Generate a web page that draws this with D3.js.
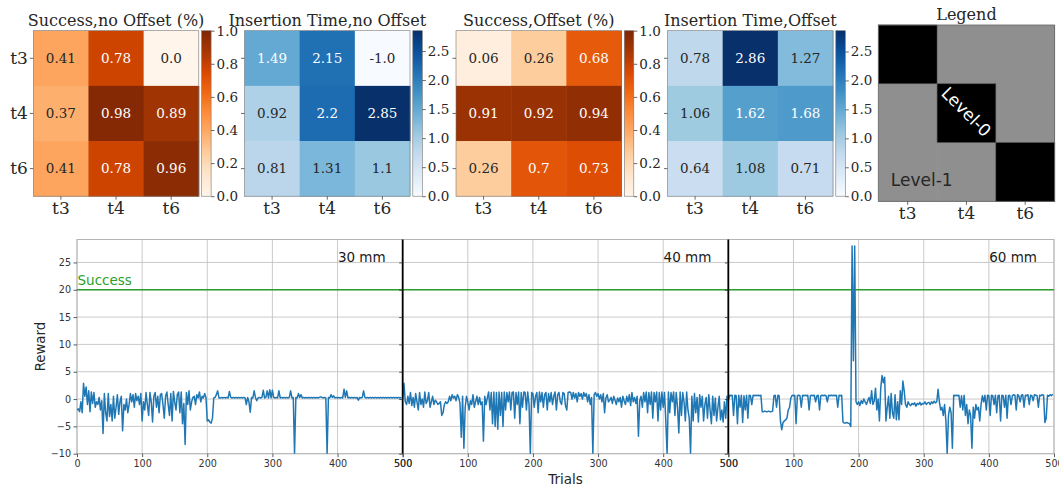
<!DOCTYPE html>
<html>
<head>
<meta charset="utf-8">
<script src="https://cdn.jsdelivr.net/npm/d3@7"></script>
<style>
  html, body { margin: 0; padding: 0; background: #fff; }
  svg { display: block; }
</style>
</head>
<body>
<svg id="chart" width="1059" height="487"></svg>
<script>
// ---- data ----
const levels = ['t3', 't4', 't6'];

const successNoOffset = [[0.41, 0.78, 0.0], [0.37, 0.98, 0.89], [0.41, 0.78, 0.96]];
const timeNoOffset = [[1.49, 2.15, -1.0], [0.92, 2.2, 2.85], [0.81, 1.31, 1.1]];
const successOffset = [[0.06, 0.26, 0.68], [0.91, 0.92, 0.94], [0.26, 0.7, 0.73]];
const timeOffset = [[0.78, 2.86, 1.27], [1.06, 1.62, 1.68], [0.64, 1.08, 0.71]];
// 0 = Level-0 (black), 1 = Level-1 (gray)
const legendLevels = [[0, 1, 1], [1, 0, 1], [1, 1, 0]];

const successTicks = [0, 0.2, 0.4, 0.6, 0.8, 1.0];
const timeTicks = [0, 0.5, 1.0, 1.5, 2.0, 2.5];

const panelNames = ['30 mm', '40 mm', '60 mm'];
const trialStep = 2;
const trialTicks = [0, 100, 200, 300, 400, 500];
const rewardTicks = [-10, -5, 0, 5, 10, 15, 20, 25];
const successReward = 20;

// reward per trial (every 2nd trial), one array per hole offset
const reward30 = [
  -2.0, -1.8, -2.3, -0.5, -2.5, 2.9, 0.5, 2.2, -1.0, 1.5,
  -2.3, 1.3, -0.8, 1.2, -1.5, -0.5, -1.0, 0.3, -2.0, -0.3,
  -6.3, 1.0, -2.5, -4.0, 1.0, -3.2, -1.0, -4.0, 0.5, -3.5,
  -1.5, 0.8, -2.8, -0.5, 0.5, -5.8, -1.0, -2.0, 0.0, -2.5,
  -1.0, 1.0, -0.5, 0.8, -1.5, 1.0, -0.3, 0.5, -1.0, 1.0,
  -4.0, -0.5, -2.0, 1.2, -1.0, -3.0, 1.2, -0.5, -4.2, 0.5,
  1.2, -1.5, 0.5, -2.5, 0.8, 1.0, -1.0, -3.5, 0.5, 1.3,
  -1.0, -3.0, 1.0, -4.0, 1.4, -0.5, -2.0, 0.8, 1.3, -2.5,
  1.3, -4.5, -0.8, -8.3, 1.2, -1.0, 1.5, -2.0, -0.5, 0.3,
  0.5, -1.0, 0.8, 0.2, 1.3, -0.5, 0.5, 0.2, 1.0, 0.3,
  -4.0, -3.8, -4.2, -4.4, -3.5, 0.2, 0.3, 0.8, 1.5, 0.2,
  0.2, 0.3, 0.2, 0.3, 0.2, 0.3, 0.2, 1.4, 0.3, 0.2,
  0.3, 0.2, 0.3, 0.2, 0.3, 0.2, 0.3, 0.2, 0.3, 0.2,
  -1.0, 0.3, -0.5, -2.4, 0.3, 0.2, 1.5, 0.3, -0.3, 0.2,
  0.3, 0.2, 0.3, 1.6, 0.2, 0.3, 1.5, 0.2, 1.7, 0.2,
  1.6, 0.3, 0.2, 0.3, 0.2, 1.5, 0.2, 0.3, 0.2, 0.3,
  0.2, 0.3, 0.2, 0.3, 1.5, 0.2, 0.3, -10, 0.3, 0.2,
  1.0, 0.3, 0.8, 0.2, 0.3, 0.2, 0.3, 0.2, 0.3, 0.2,
  0.3, 0.2, 0.3, 0.2, 0.3, 0.2, 0.3, 0.4, 0.3, 0.2,
  0.3, 0.2, -10, 0.3, 0.2, 0.8, 0.3, 0.6, 0.2, 0.3,
  0.2, 0.3, 0.2, 0.3, 0.2, 1.8, 0.3, 1.5, 0.2, 0.3,
  0.2, 0.3, 0.2, 0.3, 0.2, 0.3, -0.2, 0.3, 0.2, 0.3,
  1.5, 0.3, 0.2, 0.3, 0.2, 0.3, 0.2, 0.3, 0.2, 0.3,
  0.2, 0.3, 0.2, 0.3, 0.2, 0.3, 0.2, 0.3, 0.2, 0.3,
  0.2, 0.3, 0.2, 0.3, 0.2, 0.3, 0.2, 0.3, 0.2, 0.3
];

const reward40 = [
  0.2, 2.9, -0.5, -1.0, 0.5, -0.8, 1.2, -1.2, 0.3, -1.5,
  1.0, -0.5, -2.0, 1.2, -1.0, 0.0, -1.5, 1.3, -0.8, -0.3,
  1.2, -1.5, -0.5, 0.5, -1.0, -0.2, -0.5, -1.0, -0.8, -0.5,
  -3.0, -2.5, -1.0, -0.5, -0.8, -0.5, 0.5, -0.3, 0.8, 0.2,
  0.5, -0.3, 0.8, 0.3, -0.8, -7.0, 0.5, -9.0, -1.5, 0.5,
  -0.5, -2.0, -0.3, -1.0, 0.8, -1.5, -0.5, 0.5, -1.0, 0.3,
  -1.0, -0.5, -7.7, 0.5, -1.0, 0.2, 1.3, -2.0, 1.2, -4.5,
  1.3, -5.0, 1.2, -5.5, 1.3, -3.0, 1.2, -5.0, 1.3, -2.0,
  1.2, -0.5, 1.3, -2.0, 1.2, 1.3, -3.5, 1.2, -1.0, 1.3,
  -4.5, 1.2, -1.5, 1.3, 1.2, -2.0, 1.3, -1.0, -10, 1.2,
  1.0, -1.5, 0.5, 1.2, -2.5, 1.3, -0.5, 1.2, -1.5, 0.8,
  1.2, -2.0, 1.0, -0.5, 1.2, -1.0, 0.5, 1.3, -2.0, 0.8,
  1.2, -0.5, -1.0, 1.2, 1.0, -1.2, -2.0, 1.2, 1.3, 1.2,
  0.0, 1.2, 0.2, 1.0, -0.5, 1.2, 0.5, 1.0, 0.0, 1.2,
  0.5, 1.0, -0.5, 0.8, -1.0, 0.3, -10, 0.8, 1.2, 0.5,
  1.0, 0.0, 0.8, -0.5, 1.0, -2.5, 0.2, 0.8, -0.5, -0.2,
  0.3, -0.8, 0.5, -0.2, -1.0, 0.2, -0.5, 0.3, -1.5, 0.5,
  -0.3, -1.0, 0.5, -0.5, 0.8, -1.2, 1.2, -0.5, 0.3, -0.8,
  0.5, -6.8, -0.3, 0.5, -1.5, 1.2, -0.5, 1.3, -2.5, 1.2,
  -1.0, 1.3, -3.5, 1.2, -0.5, 1.3, -4.0, 1.2, -2.0, 1.3,
  -1.5, 1.2, -4.0, -10, 1.3, -2.5, 1.2, -0.5, 1.3, -3.0,
  1.2, -1.5, -6.2, 1.3, -3.0, 1.2, -0.5, -4.0, 1.3, -2.0,
  -3.5, -10, 0.5, -4.0, 1.0, -2.5, 0.3, -4.2, 0.8, -1.5,
  0.5, -4.0, -1.0, 0.3, -3.5, 0.8, -2.0, -4.5, 0.5, -3.0,
  0.2, -4.0, -1.5, 0.5, -3.8, -2.0, -4.2, -0.5, -3.5, 0.6
];

const reward60 = [
  -0.3, 0.7, 0.6, 0.7, -3.0, 0.7, 0.6, -4.5, 0.7, -1.5,
  0.7, -4.3, 0.6, -2.0, 0.7, -3.5, 0.7, 0.6, -1.0, 0.7,
  0.6, 0.7, 0.6, 0.7, 0.6, 0.7, -2.3, -2.3, -2.2, -2.3,
  -2.3, -2.2, -2.3, -2.3, -2.2, 0.6, 0.7, -1.5, 0.7, 0.6,
  -4.0, -5.6, -4.3, -4.0, -3.8, -3.5, -2.0, -1.5, 0.2, 0.7,
  0.6, 0.7, -4.5, 0.6, 0.7, 0.6, -1.5, 0.7, 0.6, 0.7,
  0.6, 0.7, -2.0, 0.6, 0.7, 0.6, 0.7, -0.5, 0.6, 0.7,
  -2.0, 0.6, 0.7, 0.6, 0.7, 0.6, -0.5, 0.7, 0.6, 0.7,
  0.6, 0.7, 0.6, 0.7, -1.5, 0.7, 0.6, 0.7, -4.2, -4.4,
  -4.4, -4.3, -4.4, -4.5, -5.0, 28, 7.0, 28, -0.5, -1.0,
  -0.5, -1.2, -0.3, -0.8, 0.0, -0.5, -1.0, -0.3, 0.3, -0.8,
  1.5, -1.0, -0.3, 2.0, -2.0, 0.0, -4.0, 2.0, 4.3, 3.0,
  4.0, -4.0, -1.5, 0.5, -3.5, 1.0, -2.5, -3.5, 0.8, -3.8,
  -0.5, -3.8, 1.5, -1.0, 3.3, 1.5, -1.0, -1.5, -0.5, -1.0,
  -1.2, -0.8, -1.0, -0.7, -1.3, -0.8, -1.0, -0.6, -1.1, -0.8,
  -0.9, -0.5, -1.0, -0.7, -0.6, -1.0, -0.5, -0.8, -0.4, -0.7,
  -0.5, 1.8, -0.5, -2.0, -1.5, -3.0, -1.0, -4.0, -10, -3.0,
  -1.5, -2.5, -9.0, 0.7, 0.6, 0.7, 0.6, 0.7, -1.5, 0.6,
  -2.0, 0.7, -3.0, -1.0, -4.5, -2.0, -3.0, -9.0, -1.5, -3.5,
  -1.0, -2.0, -1.5, -4.0, -1.0, 0.6, -0.5, 0.7, -2.0, 0.7,
  0.6, -3.0, 0.7, 0.6, -1.0, 0.7, -2.5, 0.6, 0.7, -4.0,
  0.7, 0.6, -1.5, 0.7, -3.5, 0.6, 0.7, -1.0, 0.6, 0.8,
  0.7, -2.0, 0.8, 0.6, -0.5, 0.7, 0.8, -1.5, 0.7, 0.6,
  0.8, -1.0, 0.7, 0.6, -0.3, 0.8, 0.7, 0.6, -1.5, 0.7,
  0.6, 0.8, 0.7, -4.3, -3.5, 0.7, 0.5, 0.8, 0.6, 0.9
];

// ---- helpers ----
const serif = 'DejaVu Serif, serif';
const sans = 'DejaVu Sans, sans-serif';

const oranges = d3.piecewise(d3.interpolateRgb, d3.schemeOranges[9]);
const blues = d3.piecewise(d3.interpolateRgb, d3.schemeBlues[9]);

function luminance(color) {
  const c = d3.rgb(color);
  const lin = v => {
    v = v / 255;
    return v <= 0.03928 ? v / 12.92 : Math.pow((v + 0.055) / 1.055, 2.4);
  };
  return 0.2126 * lin(c.r) + 0.7152 * lin(c.g) + 0.0722 * lin(c.b);
}

function fmtCell(v) {
  return Number.isInteger(v) ? v.toFixed(1) : String(v);
}

const svg = d3.select('#chart');
const defs = svg.append('defs');

// ---- heatmaps ----
const heatTop = 30.7;
const heatSize = 165.5;

const heatmaps = [
  { title: 'Success,no Offset (%)', data: successNoOffset, interp: oranges, vmax: 1.0, ticks: successTicks, left: 33.3, yLabels: true },
  { title: 'Insertion Time,no Offset', data: timeNoOffset, interp: blues, vmax: d3.max(timeNoOffset.flat()), ticks: timeTicks, left: 244.5 },
  { title: 'Success,Offset (%)', data: successOffset, interp: oranges, vmax: 1.0, ticks: successTicks, left: 456 },
  { title: 'Insertion Time,Offset', data: timeOffset, interp: blues, vmax: d3.max(timeOffset.flat()), ticks: timeTicks, left: 667.5 }
];

heatmaps.forEach((h, i) => {
  const x = d3.scaleBand().domain(levels).range([h.left, h.left + heatSize]);
  const y = d3.scaleBand().domain(levels).range([heatTop, heatTop + heatSize]);
  const color = d3.scaleSequential(h.interp).domain([0, h.vmax]).clamp(true);

  const g = svg.append('g');
  const cells = [];
  h.data.forEach((row, r) => row.forEach((v, c) => cells.push({ row: levels[r], col: levels[c], v })));

  g.selectAll('rect.cell')
    .data(cells)
    .join('rect')
    .attr('class', 'cell')
    .attr('x', d => x(d.col))
    .attr('y', d => y(d.row))
    .attr('width', x.bandwidth() + 0.5)
    .attr('height', y.bandwidth() + 0.5)
    .attr('fill', d => color(d.v));

  g.selectAll('text.val')
    .data(cells)
    .join('text')
    .attr('class', 'val')
    .attr('x', d => x(d.col) + x.bandwidth() / 2)
    .attr('y', d => y(d.row) + y.bandwidth() / 2)
    .attr('dy', '0.36em')
    .attr('text-anchor', 'middle')
    .attr('font-family', serif)
    .attr('font-size', 13.5)
    .attr('fill', d => luminance(color(d.v)) > 0.408 ? '#262626' : '#ffffff')
    .text(d => fmtCell(d.v));

  g.append('rect')
    .attr('x', h.left).attr('y', heatTop)
    .attr('width', heatSize).attr('height', heatSize)
    .attr('fill', 'none').attr('stroke', '#777').attr('stroke-width', 0.6);

  // axes
  const xAxis = g.append('g')
    .attr('transform', `translate(0,${heatTop + heatSize})`)
    .call(d3.axisBottom(x).tickSize(3.5).tickPadding(2));
  const yAxis = g.append('g')
    .attr('transform', `translate(${h.left},0)`)
    .call(d3.axisLeft(y).tickSize(3.5).tickPadding(2).tickFormat(h.yLabels ? null : ''));
  [xAxis, yAxis].forEach(a => {
    a.select('.domain').remove();
    a.selectAll('line').attr('stroke', '#444').attr('stroke-width', 0.8);
    a.selectAll('text').attr('font-family', serif).attr('font-size', 17).attr('fill', '#262626');
  });

  g.append('text')
    .attr('x', h.left + heatSize / 2)
    .attr('y', 25.5)
    .attr('text-anchor', 'middle')
    .attr('font-family', serif)
    .attr('font-size', 16)
    .attr('fill', '#262626')
    .text(h.title);

  // colorbar
  const cbLeft = h.left + heatSize + 2.8;
  const cbWidth = 9.5;
  const cbScale = d3.scaleLinear().domain([0, h.vmax]).range([heatTop + heatSize, heatTop]);
  const grad = defs.append('linearGradient')
    .attr('id', 'cb' + i)
    .attr('x1', 0).attr('y1', 1).attr('x2', 0).attr('y2', 0);
  d3.range(0, 1.0001, 0.05).forEach(t => {
    grad.append('stop').attr('offset', t).attr('stop-color', color(t * h.vmax));
  });
  g.append('rect')
    .attr('x', cbLeft).attr('y', heatTop)
    .attr('width', cbWidth).attr('height', heatSize)
    .attr('fill', `url(#cb${i})`)
    .attr('stroke', '#777').attr('stroke-width', 0.6);
  const cbAxis = g.append('g')
    .attr('transform', `translate(${cbLeft + cbWidth},0)`)
    .call(d3.axisRight(cbScale).tickValues(h.ticks).tickFormat(d3.format('.1f')).tickSize(3.5).tickPadding(2));
  cbAxis.select('.domain').remove();
  cbAxis.selectAll('line').attr('stroke', '#444').attr('stroke-width', 0.8);
  cbAxis.selectAll('text').attr('font-family', serif).attr('font-size', 13.5).attr('fill', '#262626');
});

// ---- legend matrix ----
{
  const left = 878.3, top = 25, size = 176.3;
  const x = d3.scaleBand().domain(levels).range([left, left + size]);
  const y = d3.scaleBand().domain(levels).range([top, top + size]);
  const fill = d3.scaleOrdinal().domain([0, 1]).range(['#000000', '#8f8f8f']);
  const cells = [];
  legendLevels.forEach((row, r) => row.forEach((v, c) => cells.push({ row: levels[r], col: levels[c], v })));
  const g = svg.append('g');
  g.selectAll('rect')
    .data(cells)
    .join('rect')
    .attr('x', d => x(d.col))
    .attr('y', d => y(d.row))
    .attr('width', x.bandwidth() + 0.5)
    .attr('height', y.bandwidth() + 0.5)
    .attr('fill', d => fill(d.v));
  g.selectAll('rect.edge')
    .data(cells.filter(d => d.v === 0))
    .join('rect')
    .attr('class', 'edge')
    .attr('x', d => x(d.col))
    .attr('y', d => y(d.row))
    .attr('width', x.bandwidth())
    .attr('height', y.bandwidth())
    .attr('fill', 'none')
    .attr('stroke', '#555').attr('stroke-width', 0.6);
  g.append('rect')
    .attr('x', left).attr('y', top).attr('width', size).attr('height', size)
    .attr('fill', 'none').attr('stroke', '#666').attr('stroke-width', 0.8);

  const cx = x('t4') + x.bandwidth() / 2, cy = y('t4') + y.bandwidth() / 2;
  g.append('text')
    .attr('transform', `translate(${cx},${cy - 1.5}) rotate(45)`)
    .attr('text-anchor', 'middle')
    .attr('dy', '0.36em')
    .attr('font-family', sans)
    .attr('font-size', 17)
    .attr('fill', '#fff')
    .text('Level-0');
  g.append('text')
    .attr('x', left + 12.5)
    .attr('y', 185.5)
    .attr('font-family', sans)
    .attr('font-size', 17)
    .attr('fill', '#262626')
    .text('Level-1');

  const xAxis = g.append('g')
    .attr('transform', `translate(0,${top + size})`)
    .call(d3.axisBottom(x).tickSize(3.5).tickPadding(2));
  xAxis.select('.domain').remove();
  xAxis.selectAll('line').attr('stroke', '#444').attr('stroke-width', 0.8);
  xAxis.selectAll('text').attr('font-family', serif).attr('font-size', 17).attr('fill', '#262626');

  g.append('text')
    .attr('x', left + size / 2)
    .attr('y', 19.5)
    .attr('text-anchor', 'middle')
    .attr('font-family', serif)
    .attr('font-size', 16)
    .attr('fill', '#262626')
    .text('Legend');
}

// ---- reward over trials ----
const margin = { left: 77, right: 1054, top: 239.5, bottom: 453.7 };
const panelLen = 500;

const x = d3.scaleLinear()
  .domain([0, panelLen * panelNames.length])
  .range([margin.left, margin.right]);
const y = d3.scaleLinear()
  .domain([-10, 29.2])
  .range([margin.bottom, margin.top]);

const plot = svg.append('g');

defs.append('clipPath').attr('id', 'plotClip')
  .append('rect')
  .attr('x', margin.left).attr('y', margin.top)
  .attr('width', margin.right - margin.left).attr('height', margin.bottom - margin.top);

const allTicks = [];
panelNames.forEach((p, k) => trialTicks.forEach(t => allTicks.push(k * panelLen + t)));

// grid
plot.append('g')
  .selectAll('line')
  .data(allTicks)
  .join('line')
  .attr('x1', d => x(d)).attr('x2', d => x(d))
  .attr('y1', margin.top).attr('y2', margin.bottom)
  .attr('stroke', '#c4c4c4').attr('stroke-width', 0.9);
plot.append('g')
  .selectAll('line')
  .data(rewardTicks)
  .join('line')
  .attr('x1', margin.left).attr('x2', margin.right)
  .attr('y1', d => y(d)).attr('y2', d => y(d))
  .attr('stroke', '#c4c4c4').attr('stroke-width', 0.9);

// frame
plot.append('rect')
  .attr('x', margin.left).attr('y', margin.top)
  .attr('width', margin.right - margin.left).attr('height', margin.bottom - margin.top)
  .attr('fill', 'none').attr('stroke', '#b5b5b5').attr('stroke-width', 1);

// success level
plot.append('line')
  .attr('x1', margin.left).attr('x2', margin.right)
  .attr('y1', y(successReward)).attr('y2', y(successReward))
  .attr('stroke', '#2ca02c').attr('stroke-width', 1.3);
plot.append('text')
  .attr('x', margin.left + 0.5)
  .attr('y', y(successReward) - 4.5)
  .attr('font-family', sans)
  .attr('font-size', 13.5)
  .attr('fill', '#2ca02c')
  .text('Success');

// reward curves
const line = d3.line()
  .x(d => x(d[0]))
  .y(d => y(d[1]));
[reward30, reward40, reward60].forEach((series, k) => {
  const pts = series.map((v, i) => [k * panelLen + i * trialStep, v]);
  plot.append('path')
    .datum(pts)
    .attr('clip-path', 'url(#plotClip)')
    .attr('fill', 'none')
    .attr('stroke', '#1f77b4')
    .attr('stroke-width', 1.5)
    .attr('stroke-linejoin', 'round')
    .attr('d', line);
});

// panel separators
plot.append('g')
  .selectAll('line')
  .data(d3.range(1, panelNames.length).map(k => k * panelLen))
  .join('line')
  .attr('x1', d => x(d)).attr('x2', d => x(d))
  .attr('y1', margin.top).attr('y2', margin.bottom)
  .attr('stroke', '#000').attr('stroke-width', 1.8);

// panel names
plot.append('g')
  .selectAll('text')
  .data(panelNames)
  .join('text')
  .attr('x', (d, k) => x((k + 1) * panelLen) - 17)
  .attr('y', 261.7)
  .attr('text-anchor', 'end')
  .attr('font-family', sans)
  .attr('font-size', 13.5)
  .attr('fill', '#1a1a1a')
  .text(d => d);

// axes
const xAxis = plot.append('g')
  .attr('transform', `translate(0,${margin.bottom})`)
  .call(d3.axisBottom(x).tickValues(allTicks)
    .tickFormat(d => (d > 0 && d % panelLen === 0) ? panelLen : d % panelLen)
    .tickSize(3.5).tickPadding(2.5));
panelNames.forEach((p, k) => {
  const yAxis = plot.append('g')
    .attr('transform', `translate(${x(k * panelLen)},0)`)
    .call(d3.axisLeft(y).tickValues(rewardTicks).tickSize(3.5).tickPadding(2.5)
      .tickFormat(k === 0 ? null : ''));
  yAxis.select('.domain').remove();
  yAxis.selectAll('line').attr('stroke', '#333').attr('stroke-width', 0.8);
  yAxis.selectAll('text').attr('font-family', sans).attr('font-size', 9.6).attr('fill', '#333');
});
xAxis.select('.domain').remove();
xAxis.selectAll('line').attr('stroke', '#333').attr('stroke-width', 0.8);
xAxis.selectAll('text').attr('font-family', sans).attr('font-size', 9.6).attr('fill', '#333');

plot.append('text')
  .attr('transform', `translate(45,${(margin.top + margin.bottom) / 2}) rotate(-90)`)
  .attr('text-anchor', 'middle')
  .attr('font-family', sans)
  .attr('font-size', 13.3)
  .attr('fill', '#262626')
  .text('Reward');
plot.append('text')
  .attr('x', (margin.left + margin.right) / 2)
  .attr('y', 483.5)
  .attr('text-anchor', 'middle')
  .attr('font-family', sans)
  .attr('font-size', 13.5)
  .attr('fill', '#262626')
  .text('Trials');
</script>
</body>
</html>
